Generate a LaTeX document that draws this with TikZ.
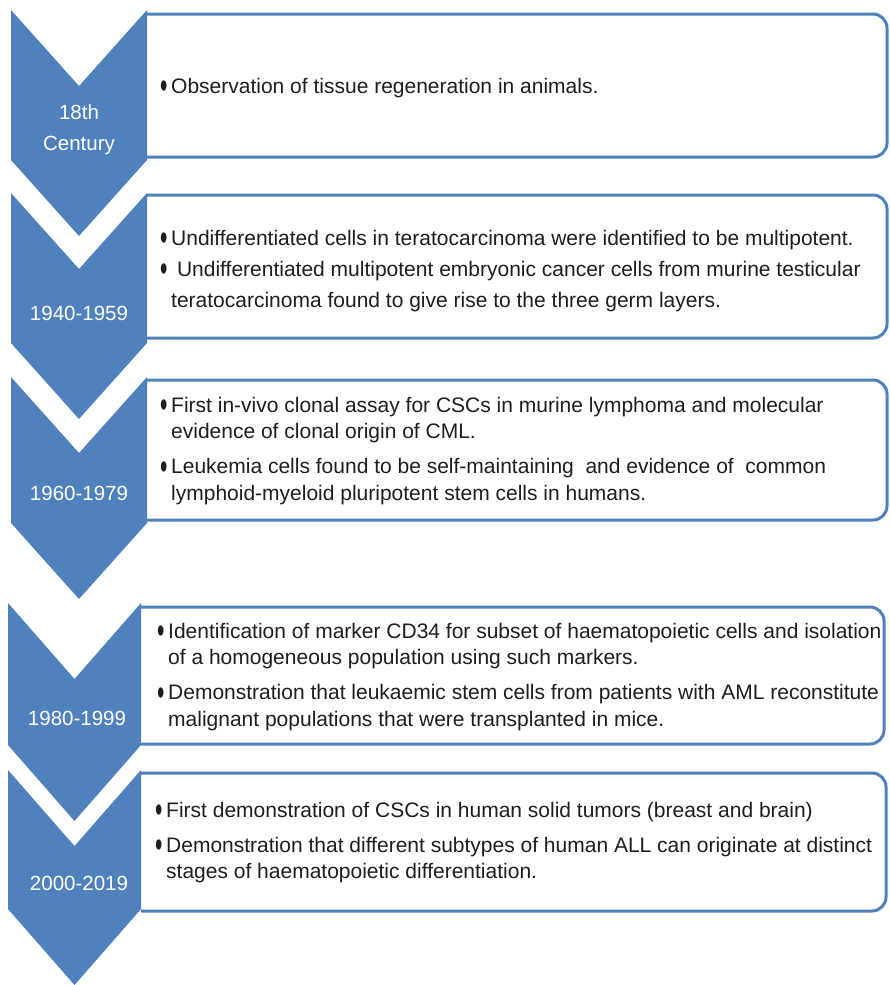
\documentclass[tikz,border=0pt]{standalone}
\usepackage{fontspec}
\setmainfont{Liberation Sans}
\usetikzlibrary{positioning}
\definecolor{chevblue}{RGB}{79,129,189}
\definecolor{inkgray}{RGB}{30,30,30}
\newcommand{\bul}{\makebox[11pt][l]{\smash{\raisebox{-5.5pt}{\scalebox{1}[1.8]{\textbullet}}}}}
\newcommand{\ind}{\hspace*{11pt}}
\newcommand{\tstrut}{\rule{0pt}{16pt}}

\begin{document}
\begin{tikzpicture}[x=1pt,y=-1pt,
    eventbox/.style={draw=chevblue,line width=3pt,rounded corners=14pt,fill=white},
    yearlbl/.style={text=white,align=center,inner sep=0pt,font=\fontsize{20.5}{31}\selectfont},
    eventtxt/.style={anchor=north west,align=left,inner sep=0pt,text=inkgray,font=\fontsize{21}{26.5}\selectfont}]
    \fill[white] (0,0) rectangle (889,985);
    \useasboundingbox (0,0) rectangle (889,985);
                    \foreach \xc/\ya/\yb/\xr in {147/14/157/887,147/195/338/887,147/380/520/887,141/607/744/884,141/773/911/886}{
                        \begin{scope}
                            \clip (\xc,0) rectangle (889,985);
                            \draw[eventbox] (110,\ya) rectangle (\xr,\yb);
                        \end{scope}
                    }
                    \foreach \xl/\xr/\ya/\yb in {11/147/10/160,11/147/193/343,11/147/377/523,8/141/603/745,8/141/770/909}{
                        \fill[chevblue] (\xl,\ya) -- ({(\xl+\xr)/2},\ya+76) -- (\xr,\ya) -- (\xr,\yb)
                            -- ({(\xl+\xr)/2},\yb+76) -- (\xl,\yb) -- cycle;
                    }
                    \node[yearlbl] (c1) at (79,130) {18th\\Century};
                    \node[yearlbl] (c2) at (79,313) {1940-1959};
                    \node[yearlbl] (c3) at (79,493) {1960-1979};
                    \node[yearlbl] (c4) at (77,718) {1980-1999};
                    \node[yearlbl] (c5) at (79,883) {2000-2019};
                    \node[eventtxt] (t1) at (160,77) {\tstrut\bul Observation of tissue regeneration in animals.};
                    \node[eventtxt,font=\fontsize{21}{31}\selectfont] (t2) at (160,229) {\tstrut\bul Undifferentiated cells in teratocarcinoma were identified to be multipotent.\\
                        \bul\ Undifferentiated multipotent embryonic cancer cells from murine testicular\\
                        \ind teratocarcinoma found to give rise to the three germ layers.};
                    \node[eventtxt] (t3) at (160,396) {\tstrut\bul First in-vivo clonal assay for CSCs in murine lymphoma and molecular\\
                        \ind evidence of clonal origin of CML.\\[8.5pt]
                        \bul Leukemia cells found to be self-maintaining\ \ and evidence of\ \ common\\
                        \ind lymphoid-myeloid pluripotent stem cells in humans.};
                    \node[eventtxt] (t4) at (157,622) {\tstrut\bul Identification of marker CD34 for subset of haematopoietic cells and isolation\\
                        \ind of a homogeneous population using such markers.\\[8.5pt]
                        \bul Demonstration that leukaemic stem cells from patients with AML reconstitute\\
                        \ind malignant populations that were transplanted in mice.};
                    \node[eventtxt] (t5) at (155,801) {\tstrut\bul First demonstration of CSCs in human solid tumors (breast and brain)\\[8.5pt]
                        \bul Demonstration that different subtypes of human ALL can originate at distinct\\
                        \ind stages of haematopoietic differentiation.};
                \end{tikzpicture}
\end{document}
